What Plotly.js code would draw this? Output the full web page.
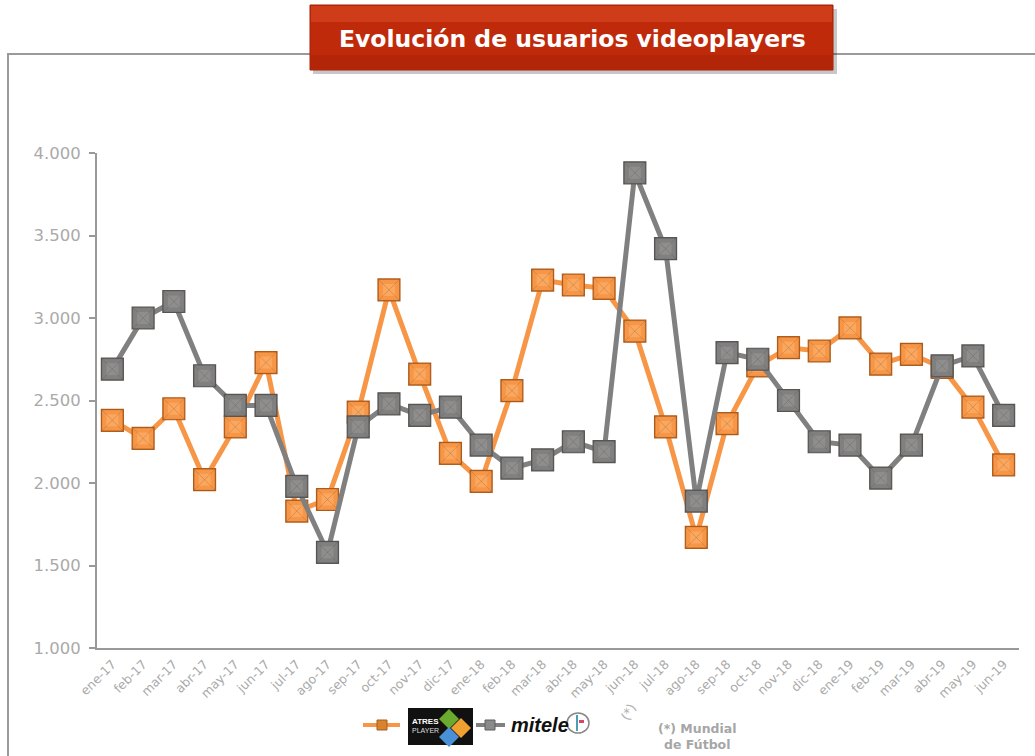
<!DOCTYPE html>
<html>
<head>
<meta charset="utf-8">
<script src="https://cdn.plot.ly/plotly-3.0.1.min.js"></script>
<style>html,body{margin:0;padding:0;background:#fff;}#chart{width:1035px;height:756px;}</style>
</head>
<body>
<div id="chart"></div>
<script>
const months = ["ene-17","feb-17","mar-17","abr-17","may-17","jun-17","jul-17","ago-17","sep-17","oct-17","nov-17","dic-17",
  "ene-18","feb-18","mar-18","abr-18","may-18","jun-18","jul-18","ago-18","sep-18","oct-18","nov-18","dic-18",
  "ene-19","feb-19","mar-19","abr-19","may-19","jun-19"];
const atresplayer = [2380,2270,2450,2020,2340,2730,1830,1900,2430,3170,2660,2180,
  2010,2560,3230,3200,3180,2920,2340,1670,2360,2710,2820,2800,
  2940,2720,2780,2700,2460,2110];
const mitele = [2690,3000,3100,2650,2470,2470,1980,1580,2340,2480,2410,2460,
  2230,2090,2140,2250,2190,3880,3420,1890,2790,2750,2500,2250,
  2230,2030,2230,2710,2770,2410];
const yTicks = [1000,1500,2000,2500,3000,3500,4000];

const W = 1035, H = 756, L = 97, R = 1019, T = 153, B = 648;
const px = x => (x - L) / (R - L);
const py = y => (B - y) / (B - T);

const ORANGE = "#f79646", ORANGE_D = "#b8601c";
const GRAY = "#808080", GRAY_D = "#5a5a5a";

function series(y, c, cd, inner) {
  return [
    {x: months, y: y, type: "scatter", mode: "lines+markers", hoverinfo: "skip",
     line: {color: c, width: 5},
     marker: {symbol: "square", size: 22, color: c, line: {color: cd, width: 1.2}}},
    {x: months, y: y, type: "scatter", mode: "markers", hoverinfo: "skip",
     marker: {symbol: "square", size: 12, color: inner, line: {width: 0}}},
    {x: months, y: y, type: "scatter", mode: "markers", hoverinfo: "skip",
     marker: {symbol: "square-x-open", size: 21, color: "rgba(70,45,20,0.18)", line: {width: 1}}}
  ];
}

const data = [...series(atresplayer, ORANGE, ORANGE_D, "#fba75e"), ...series(mitele, GRAY, GRAY_D, "#8e8e8e")];

function rect(x0, y0, x1, y1, fill, lineColor, lw) {
  return {type: "rect", xref: "paper", yref: "paper", x0: px(x0), x1: px(x1), y0: py(y1), y1: py(y0),
    fillcolor: fill, line: {color: lineColor || fill, width: lw === undefined ? 0 : lw}, layer: "above"};
}
function line(x0, y0, x1, y1, c, w) {
  return {type: "line", xref: "paper", yref: "paper", x0: px(x0), x1: px(x1), y0: py(y0), y1: py(y1),
    line: {color: c, width: w}, layer: "above"};
}
function diamond(cx, cy, r, c) {
  const p = (x, y) => px(x).toFixed(5) + "," + py(y).toFixed(5);
  return {type: "path", xref: "paper", yref: "paper",
    path: "M" + p(cx, cy - r) + " L" + p(cx + r, cy) + " L" + p(cx, cy + r) + " L" + p(cx - r, cy) + " Z",
    fillcolor: c, line: {width: 0}, layer: "above"};
}
function ann(x, y, text, opts) {
  return Object.assign({xref: "paper", yref: "paper", x: px(x), y: py(y), text: text, showarrow: false,
    xanchor: "center", yanchor: "middle"}, opts || {});
}

const shapes = [
  {type: "rect", xref: "paper", yref: "paper", x0: px(8), x1: px(1060), y0: py(790), y1: py(54),
   line: {color: "#9a9a9a", width: 2}, fillcolor: "rgba(0,0,0,0)", layer: "below"},
  rect(313, 9, 837, 74, "rgba(0,0,0,0.22)"),
  rect(310, 5, 833, 70, "#bf2a0b", "#a61e06", 1),
  rect(311, 6, 832, 22, "rgba(235,95,55,0.35)"),
  rect(311, 55, 832, 69, "rgba(120,15,0,0.18)"),
  line(363, 725, 400, 725, ORANGE, 4),
  rect(377, 720, 387, 730, "#d9822f", "#a85d1c", 1),
  rect(408, 708, 473, 745, "#111111"),
  diamond(449, 719, 10, "#6aaa2e"),
  diamond(461, 728, 10, "#f0a030"),
  diamond(449, 737, 10, "#4a90d6"),
  line(476, 725, 505, 725, GRAY, 4),
  rect(485, 720, 495, 730, "#8a8a8a", "#5f5f5f", 1),
  {type: "circle", xref: "paper", yref: "paper", x0: px(567), x1: px(589), y0: py(733), y1: py(713),
   line: {color: "#888", width: 1.5}, fillcolor: "white", layer: "above"},
  line(577, 715, 577, 731, "#4aa0b0", 2),
  rect(579, 720, 584, 723, "#d04a6a")
];

const annotations = [
  ann(572, 39, "Evolución de usuarios videoplayers",
      {font: {family: "DejaVu Sans, Verdana, sans-serif", size: 23.5, color: "#ffffff", weight: "bold"}}),
  ann(425, 721, "<b>ATRES</b>", {font: {family: "Liberation Sans, Arial", size: 8, color: "#fff"}}),
  ann(425, 730, "PLAYER", {font: {family: "Liberation Sans, Arial", size: 7, color: "#ddd"}}),
  ann(540, 725, "<b><i>mitele</i></b>", {font: {family: "Liberation Sans, Arial", size: 20, color: "#111"}}),
  ann(628, 712, "(*)", {textangle: -60, font: {family: "DejaVu Sans, Verdana", size: 13, color: "#b0b0b0"}}),
  ann(697, 736, "<b>(*) Mundial<br>de Fútbol</b>",
      {font: {family: "DejaVu Sans, Verdana", size: 12.5, color: "#a6a6a6"}})
];

const layout = {
  width: W, height: H,
  margin: {l: L, r: W - R, t: T, b: H - B, pad: 0},
  paper_bgcolor: "#ffffff", plot_bgcolor: "#ffffff",
  showlegend: false,
  separators: ",.",
  font: {family: "DejaVu Sans, Verdana, sans-serif", color: "#aaaaaa"},
  xaxis: {
    type: "category", range: [-0.5, months.length - 0.5], fixedrange: true,
    showgrid: false, zeroline: false, showline: true, linecolor: "#999999", linewidth: 2,
    ticks: "", tickangle: -45, tickfont: {size: 12.5, color: "#aaaaaa"}, ticklabelstandoff: 2
  },
  yaxis: {
    range: [1000, 4000], fixedrange: true, tickvals: yTicks, tickformat: ",d",
    showgrid: false, zeroline: false, showline: true, linecolor: "#999999", linewidth: 2,
    ticks: "outside", ticklen: 6, tickcolor: "#999999", tickwidth: 2,
    tickfont: {size: 16.5, color: "#aaaaaa"}, ticklabelstandoff: 5
  },
  shapes: shapes,
  annotations: annotations
};

Plotly.newPlot("chart", data, layout, {staticPlot: true, displayModeBar: false});
</script>
</body>
</html>
